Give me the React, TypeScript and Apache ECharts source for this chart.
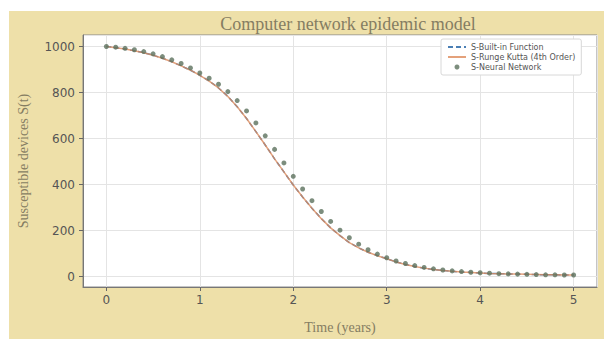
import React, { useEffect, useRef } from "react";
import * as echarts from "echarts";

const timeYears = [
  0.0, 0.1, 0.2, 0.3, 0.4, 0.5, 0.6, 0.7, 0.8, 0.9,
  1.0, 1.1, 1.2, 1.3, 1.4, 1.5, 1.6, 1.7, 1.8, 1.9,
  2.0, 2.1, 2.2, 2.3, 2.4, 2.5, 2.6, 2.7, 2.8, 2.9,
  3.0, 3.1, 3.2, 3.3, 3.4, 3.5, 3.6, 3.7, 3.8, 3.9,
  4.0, 4.1, 4.2, 4.3, 4.4, 4.5, 4.6, 4.7, 4.8, 4.9, 5.0,
];

const sBuiltIn = [
  1000, 995, 989, 982, 973, 962, 949, 934, 916, 897,
  875, 850, 820, 783, 738, 687, 630, 572, 512, 455,
  398, 346, 297, 252, 212, 178, 148, 125, 106, 91,
  78, 64, 53, 44, 37, 31, 27, 23, 20, 18,
  16, 14, 13, 12, 11, 10, 9, 8, 8, 7, 7,
];

const sRungeKutta = [
  1000, 995, 989, 982, 973, 962, 949, 934, 916, 897,
  875, 850, 820, 783, 738, 687, 630, 572, 512, 455,
  398, 346, 297, 252, 212, 178, 148, 125, 106, 91,
  78, 64, 53, 44, 37, 31, 27, 23, 20, 18,
  16, 14, 13, 12, 11, 10, 9, 8, 8, 7, 7,
];

const sNeural = [
  1000, 997, 992, 986, 978, 968, 956, 942, 926, 907,
  885, 862, 836, 804, 765, 720, 668, 612, 553, 494,
  436, 381, 330, 283, 240, 202, 169, 141, 117, 98,
  82, 68, 57, 48, 40, 34, 29, 25, 22, 19,
  17, 15, 13, 12, 11, 10, 9, 8, 8, 7, 7,
];

const seriesNames = [
  "S-Built-in Function",
  "S-Runge Kutta (4th Order)",
  "S-Neural Network",
];

const titleText = "Computer network epidemic model";
const xLabel = "Time (years)";
const yLabel = "Susceptible devices S(t)";

const pairs = (ys: number[]) => timeYears.map((t, i) => [t, ys[i]]);

export default function App() {
  const ref = useRef<HTMLDivElement>(null);
  useEffect(() => {
    document.body.style.margin = "0";
    const chart = echarts.init(ref.current!, null, { renderer: "svg" });
    const serif = "Liberation Serif";
    const sans = "DejaVu Sans";
    const labelColor = "#857d62";
    chart.setOption({
      animation: false,
      backgroundColor: "#ffffff",
      graphic: [
        {
          type: "rect",
          z: -10,
          shape: { x: 9, y: 11, width: 595, height: 328 },
          style: { fill: "#eee0a9" },
        },
      ],
      title: {
        text: titleText,
        left: 343,
        textAlign: "center",
        top: 10,
        textStyle: {
          fontFamily: serif,
          fontSize: 18,
          fontWeight: "normal",
          color: labelColor,
        },
      },
      grid: {
        left: 83,
        right: 7,
        top: 35,
        bottom: 45,
        show: true,
        backgroundColor: "#ffffff",
        borderColor: "#8a8a8a",
        borderWidth: 1,
      },
      legend: {
        orient: "vertical",
        left: 441,
        top: 39,
        padding: [4, 6, 4, 6],
        itemWidth: 18,
        itemHeight: 5,
        itemGap: 2,
        backgroundColor: "#ffffff",
        borderColor: "#d8d8d8",
        borderWidth: 1,
        borderRadius: 2,
        data: [
          { name: seriesNames[0], itemStyle: { opacity: 0 } },
          { name: seriesNames[1], itemStyle: { opacity: 0 } },
          { name: seriesNames[2], icon: "circle" },
        ],
        textStyle: { fontFamily: sans, fontSize: 8, color: "#555" },
      },
      xAxis: {
        type: "value",
        min: -0.25,
        max: 5.25,
        name: xLabel,
        nameLocation: "middle",
        nameGap: 33,
        nameTextStyle: { fontFamily: serif, fontSize: 14, color: labelColor },
        axisLine: { show: true, onZero: false, lineStyle: { color: "#777" } },
        axisTick: { show: true, length: 4, lineStyle: { color: "#666" } },
        axisLabel: {
          showMinLabel: false,
          showMaxLabel: false,
          fontFamily: sans,
          fontSize: 12,
          color: "#555",
          margin: 7,
        },
        splitLine: { show: true, lineStyle: { color: "#e4e4e4", width: 1 } },
      },
      yAxis: {
        type: "value",
        min: -45,
        max: 1050,
        name: yLabel,
        nameLocation: "middle",
        nameGap: 53,
        nameTextStyle: { fontFamily: serif, fontSize: 14, color: labelColor },
        axisLine: { show: true, onZero: false, lineStyle: { color: "#777" } },
        axisTick: { show: true, length: 4, lineStyle: { color: "#666" } },
        axisLabel: {
          showMinLabel: false,
          showMaxLabel: false,
          fontFamily: sans,
          fontSize: 12,
          color: "#555",
          margin: 8,
          formatter: (v: number) => String(v),
        },
        splitLine: { show: true, lineStyle: { color: "#e4e4e4", width: 1 } },
      },
      series: [
        {
          name: seriesNames[0],
          type: "line",
          data: pairs(sBuiltIn),
          showSymbol: false,
          symbol: "none",
          lineStyle: { color: "#4a7fb5", width: 1.5, type: [5, 3] },
          itemStyle: { color: "#4a7fb5" },
          z: 2,
        },
        {
          name: seriesNames[1],
          type: "line",
          data: pairs(sRungeKutta),
          showSymbol: false,
          symbol: "none",
          lineStyle: { color: "#dd8a5a", width: 1.5, opacity: 0.8 },
          itemStyle: { color: "#dd8a5a" },
          z: 3,
        },
        {
          name: seriesNames[2],
          type: "scatter",
          data: pairs(sNeural),
          symbol: "circle",
          symbolSize: 5,
          itemStyle: { color: "#5b705c" },
          z: 4,
        },
      ],
    });
    return () => chart.dispose();
  }, []);
  return <div ref={ref} style={{ width: 604, height: 339 }} />;
}
